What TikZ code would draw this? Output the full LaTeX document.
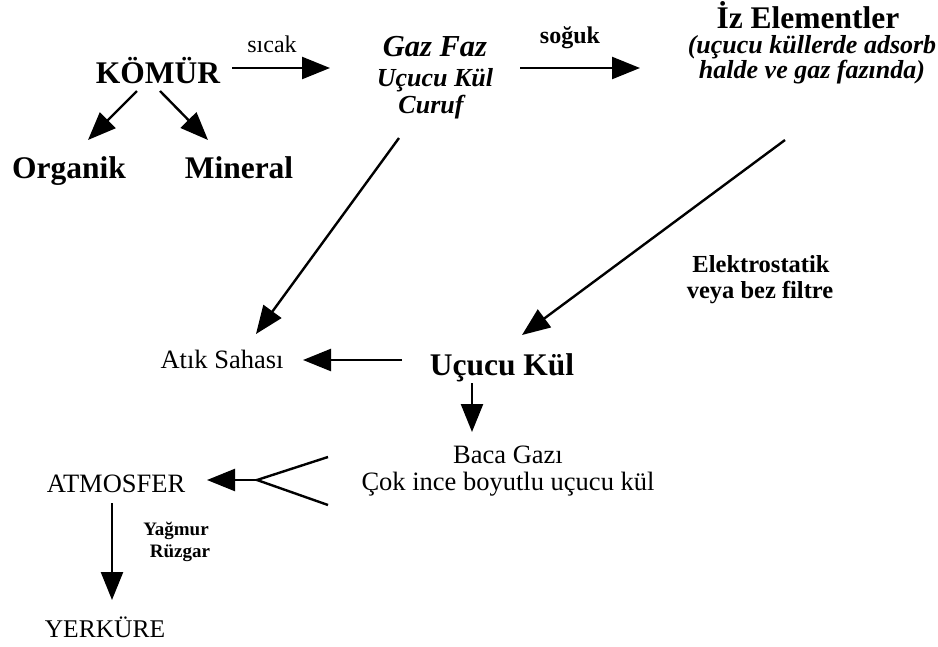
\documentclass[tikz,border=0pt]{standalone}
\usepackage{fontspec}
\setmainfont{Liberation Serif}
\usetikzlibrary{arrows.meta}

\tikzset{every picture/.style={line width=2.4pt}}
\tikzset{
  headb/.style={font=\fontsize{31.5}{36}\selectfont\bfseries, inner sep=0.75pt, anchor=base},
  gazb/.style={font=\fontsize{30.5}{34}\selectfont\bfseries\itshape, inner sep=0.75pt, anchor=base},
  gazs/.style={font=\fontsize{26}{20}\selectfont\bfseries\itshape, inner sep=0.75pt, anchor=base},
  plain/.style={font=\fontsize{26.5}{30}\selectfont, inner sep=0.75pt, anchor=base},
  note/.style={font=\fontsize{24.5}{28}\selectfont\bfseries, inner sep=0.75pt, anchor=base},
  tiny/.style={font=\fontsize{19}{22}\selectfont\bfseries, inner sep=0.75pt, anchor=base},
}

\begin{document}
\begin{tikzpicture}[x=1pt,y=1pt,yscale=-1,xscale=1,>={Triangle[length=28pt,width=22pt]}]
\path[use as bounding box] (0,0) rectangle (938,646);

% Text Node
\draw (158,83) node [headb] (kom) {KÖMÜR};
% Text Node
\draw (69,178) node [headb] (org) {Organik};
% Text Node
\draw (239,178) node [headb] (min) {Mineral};
% Text Node
\draw (272,52) node [plain,font=\fontsize{24}{28}\selectfont] (sicak) {sıcak};
% Text Node
\draw (435,56) node [gazb] (gaz) {Gaz Faz};
% Text Node
\draw (435,86) node [gazs] (gazkul) {Uçucu Kül};
% Text Node
\draw (431,113) node [gazs] (curuf) {Curuf};
% Text Node
\draw (570,43) node [note,font=\fontsize{24}{28}\selectfont\bfseries] (soguk) {soğuk};
% Text Node
\draw (808,28) node [headb] (iz) {İz Elementler};
% Text Node (base = last line)
\draw (812,78) node [gazs,align=center] (ads) {(uçucu küllerde adsorb\\halde ve gaz fazında)};
% Text Node
\draw (761,272) node [note] (elek) {Elektrostatik};
% Text Node
\draw (760,298) node [note] (filt) {veya bez filtre};
% Text Node
\draw (222,368) node [plain] (atik) {Atık Sahası};
% Text Node
\draw (502,375) node [headb] (ucucu) {Uçucu Kül};
% Text Node
\draw (508,463) node [plain] (baca) {Baca Gazı};
% Text Node
\draw (508,490) node [plain] (cok) {Çok ince boyutlu uçucu kül};
% Text Node
\draw (116,492) node [plain] (atmos) {ATMOSFER};
% Text Node
\draw (176,535) node [tiny] (yag) {Yağmur};
% Text Node
\draw (180,557) node [tiny] (ruz) {Rüzgar};
% Text Node
\draw (105,637) node [plain,font=\fontsize{25.5}{30}\selectfont] (yer) {YERKÜRE};

\coordinate (fork) at (257,480);

%Straight Lines
\draw [->] ([shift={(-21,8)}]kom.base) -- ([shift={(19,-38)}]org.base);
\draw [->] ([shift={(2,8)}]kom.base) -- ([shift={(-31,-38)}]min.base);
\draw [->] ([shift={(74,-15)}]kom.base) -- ([shift={(-105,-18)}]gazkul.base);
\draw [->] ([shift={(85,-18)}]gazkul.base) -- ([shift={(-172,-10)}]ads.base);
\draw [->] ([shift={(-32,25)}]curuf.base) -- ([shift={(34,-34)}]atik.base);
\draw [->] ([shift={(-27,62)}]ads.base) -- ([shift={(20,-40)}]ucucu.base);
\draw [->] ([shift={(-100,-15)}]ucucu.base) -- ([shift={(81,-8)}]atik.base);
\draw [->] ([shift={(-30,8)}]ucucu.base) -- ([shift={(-36,-31)}]baca.base);
%Fork
\draw ([shift={(-180,-33)}]cok.base) -- (fork) -- ([shift={(-180,15)}]cok.base);
\draw [->] (fork) -- ([shift={(91,-12)}]atmos.base);
\draw [->] ([shift={(-4,11)}]atmos.base) -- ([shift={(7,-37)}]yer.base);

\end{tikzpicture}
\end{document}
